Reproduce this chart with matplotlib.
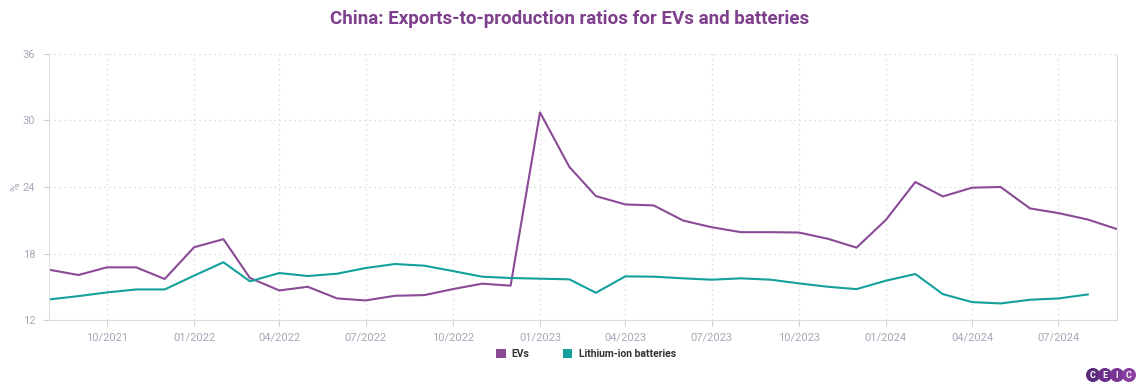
import pandas as pd
import matplotlib
matplotlib.use('Agg')
import matplotlib.pyplot as plt
import matplotlib.dates as mdates
from matplotlib.patches import Circle, Patch

plt.rcParams['font.family'] = ['Roboto', 'DejaVu Sans']

# monthly data, 08/2021 - 09/2024
ev_months = pd.date_range('2021-08-01', '2024-09-01', freq='MS')
ev_ratio = [16.55, 16.07, 16.76, 16.76, 15.71, 18.57, 19.30, 15.80, 14.68, 15.01,
            13.96, 13.78, 14.20, 14.26, 14.80, 15.29, 15.11, 30.72, 25.81, 23.18,
            22.43, 22.34, 20.98, 20.38, 19.93, 19.93, 19.90, 19.33, 18.54, 21.04,
            24.45, 23.15, 23.94, 24.00, 22.07, 21.65, 21.07, 20.20]

bat_months = pd.date_range('2021-08-01', '2024-08-01', freq='MS')
bat_ratio = [13.87, 14.17, 14.50, 14.77, 14.77, 16.01, 17.22, 15.50, 16.25, 15.98,
             16.19, 16.70, 17.06, 16.91, 16.43, 15.92, 15.80, 15.74, 15.68, 14.47,
             15.95, 15.92, 15.77, 15.65, 15.77, 15.65, 15.32, 15.01, 14.80, 15.56,
             16.16, 14.35, 13.63, 13.51, 13.84, 13.96, 14.32]

y_ticks = [12, 18, 24, 30, 36]

ev_color = '#8a4a96'
bat_color = '#13a19e'
grey = '#a9a6b8'

fig = plt.figure(figsize=(11.4, 3.9), dpi=100)
ax = fig.add_axes([0.043, 0.179, 0.937, 0.683])

ax.plot(ev_months, ev_ratio, color=ev_color, lw=1.5, label='EVs')
ax.plot(bat_months, bat_ratio, color=bat_color, lw=1.5, label='Lithium-ion batteries')

ax.set_xlim(ev_months[0], ev_months[-1])
ax.set_ylim(12, 36)
ax.set_yticks(y_ticks)
ax.xaxis.set_major_locator(mdates.MonthLocator(bymonth=[1, 4, 7, 10]))
ax.xaxis.set_major_formatter(mdates.DateFormatter('%m/%Y'))

ax.grid(True, color='#d3d3dc', linestyle=(0, (1, 3)), lw=0.9)
ax.tick_params(colors='#d0d0d8', labelcolor=grey, labelsize=8, length=4, width=0.8)
ax.tick_params(axis='y', pad=6)
ax.tick_params(axis='x', pad=5)
for side in ['left', 'bottom', 'right']:
    ax.spines[side].set_color('#dcdce2')
ax.spines['top'].set_visible(False)
ax.set_ylabel('%', color=grey, fontsize=8.5)
ax.yaxis.set_label_coords(-0.025, 0.5)

fig.suptitle('China: Exports-to-production ratios for EVs and batteries',
             color='#7e3f8c', fontsize=13.5, fontweight='bold', y=0.975)

handles = [Patch(facecolor=ev_color, label='EVs'),
           Patch(facecolor=bat_color, label='Lithium-ion batteries')]
leg = fig.legend(handles=handles, loc='center', bbox_to_anchor=(0.514, 0.092), ncol=2,
                 frameon=False, handlelength=0.9, handleheight=0.9, columnspacing=3.2,
                 handletextpad=0.6, prop={'size': 7.5, 'weight': 'bold'})
for t in leg.get_texts():
    t.set_color('#333333')

# CEIC logo
logo_cols = ['#5b2a7c', '#6a2f88', '#7a3694', '#8a3ea0']
for i, (ch, c) in enumerate(zip('CEIC', logo_cols)):
    x = 1093 + i * 12
    fig.patches.append(Circle((x, 15), 6.3, transform=None, color=c, figure=fig))
    fig.text(x / 1140, 15 / 390, ch, color='white', fontsize=6.5, fontweight='bold',
             ha='center', va='center', zorder=5)

fig.savefig('out.png', dpi=100)
